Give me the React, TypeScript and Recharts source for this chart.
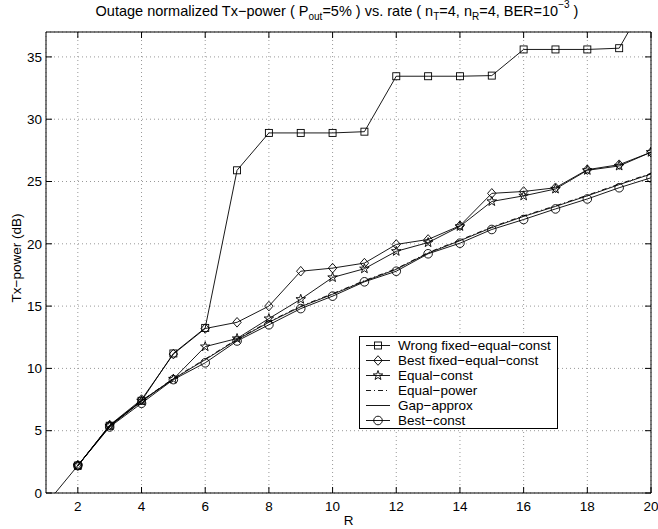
import React from "react";
import {
  LineChart,
  Line,
  XAxis,
  YAxis,
  CartesianGrid,
  Legend,
} from "recharts";

// rate R
const rates = [1, 2, 3, 4, 5, 6, 7, 8, 9, 10, 11, 12, 13, 14, 15, 16, 17, 18, 19, 20];

// Tx-power (dB) per scheme
const wrongFixed = [null, 2.2, 5.4, 7.4, 11.2, 13.25, 25.9, 28.9, 28.9, 28.9, 29.0, 33.45, 33.45, 33.45, 33.5, 35.6, 35.6, 35.6, 35.7, 40.2];
const bestFixed = [null, 2.2, 5.45, 7.5, 11.15, 13.2, 13.7, 15.0, 17.8, 18.05, 18.45, 19.95, 20.35, 21.45, 24.05, 24.2, 24.5, 25.95, 26.35, 27.35];
const equalConst = [null, 2.2, 5.4, 7.4, 9.15, 11.75, 12.4, 14.0, 15.55, 17.3, 18.0, 19.4, 20.1, 21.4, 23.4, 23.85, 24.4, 25.9, 26.25, 27.35];
const equalPower = [null, 2.2, 5.4, 7.4, 9.2, 10.75, 12.35, 13.75, 15.0, 16.0, 17.05, 18.0, 19.3, 20.3, 21.35, 22.25, 23.05, 23.9, 24.8, 25.65];
const gapApprox = [-0.9, 2.2, 5.35, 7.35, 9.15, 10.7, 12.3, 13.7, 14.95, 15.95, 17.0, 17.95, 19.25, 20.25, 21.3, 22.2, 23.0, 23.85, 24.75, 25.6];
const bestConst = [null, 2.2, 5.3, 7.2, 9.1, 10.45, 12.2, 13.5, 14.8, 15.8, 16.95, 17.8, 19.2, 20.05, 21.15, 21.95, 22.8, 23.6, 24.5, 25.3];

const xTicks = [2, 4, 6, 8, 10, 12, 14, 16, 18, 20];
const yTicks = [0, 5, 10, 15, 20, 25, 30, 35];

const data = rates.map((r, i) => ({
  r,
  wrongFixed: wrongFixed[i],
  bestFixed: bestFixed[i],
  equalConst: equalConst[i],
  equalPower: equalPower[i],
  gapApprox: gapApprox[i],
  bestConst: bestConst[i],
}));

const series = [
  { key: "wrongFixed", name: "Wrong fixed\u2212equal\u2212const", marker: "square", dash: undefined },
  { key: "bestFixed", name: "Best fixed\u2212equal\u2212const", marker: "diamond", dash: undefined },
  { key: "equalConst", name: "Equal\u2212const", marker: "star", dash: undefined },
  { key: "equalPower", name: "Equal\u2212power", marker: null, dash: "5 3 1 3" },
  { key: "gapApprox", name: "Gap\u2212approx", marker: null, dash: undefined },
  { key: "bestConst", name: "Best\u2212const", marker: "circle", dash: undefined },
];

const FONT = '"Liberation Sans", Arial, Helvetica, sans-serif';

function starPoints(cx: number, cy: number, ro: number, ri: number) {
  const pts: string[] = [];
  for (let k = 0; k < 10; k++) {
    const rad = k % 2 === 0 ? ro : ri;
    const a = -Math.PI / 2 + (k * Math.PI) / 5;
    pts.push(`${cx + rad * Math.cos(a)},${cy + rad * Math.sin(a)}`);
  }
  return pts.join(" ");
}

function Marker({ shape, cx, cy }: { shape: string; cx: number; cy: number }) {
  const common = { fill: "none", stroke: "#000", strokeWidth: 0.9 };
  if (shape === "square") return <rect x={cx - 3.5} y={cy - 3.5} width={7} height={7} {...common} />;
  if (shape === "diamond")
    return <polygon points={`${cx},${cy - 4.8} ${cx + 4.2},${cy} ${cx},${cy + 4.8} ${cx - 4.2},${cy}`} {...common} />;
  if (shape === "star") return <polygon points={starPoints(cx, cy, 5, 2)} {...common} />;
  if (shape === "circle") return <circle cx={cx} cy={cy} r={4.3} {...common} />;
  return null;
}

const dotFor = (shape: string | null) => {
  if (!shape) return false;
  return (props: any) => {
    const { cx, cy, index, value } = props;
    if (cx == null || cy == null || value == null) return <g key={index} />;
    return (
      <g key={index}>
        <Marker shape={shape} cx={cx} cy={cy} />
      </g>
    );
  };
};

function LegendBox() {
  return (
    <div
      style={{
        border: "1px solid #000",
        background: "#fff",
        width: 197,
        paddingTop: 1,
        fontFamily: FONT,
        fontSize: 13.5,
        color: "#000",
      }}
    >
      {series.map((s) => (
        <div key={s.key} style={{ display: "flex", alignItems: "center", height: 15, lineHeight: "15px" }}>
          <svg width={38} height={15}>
            <line x1={6} x2={30} y1={7.5} y2={7.5} stroke="#000" strokeWidth={0.9} strokeDasharray={s.dash} />
            {s.marker && <Marker shape={s.marker} cx={18} cy={7.5} />}
          </svg>
          <span style={{ whiteSpace: "nowrap" }}>{s.name}</span>
        </div>
      ))}
    </div>
  );
}

const tickStyle = { fontSize: 13.5, fill: "#000", fontFamily: FONT };
const noTick = () => <g />;

export default function App() {
  return (
    <div style={{ position: "absolute", left: 0, top: 0, width: 658, height: 529, background: "#fff" }}>
      <LineChart width={658} height={529} data={data} margin={{ top: 31, right: 6, bottom: 0, left: 0 }}>
        <CartesianGrid stroke="#999" strokeDasharray="1 3" />
        <XAxis
          dataKey="r"
          type="number"
          domain={[1, 20]}
          ticks={xTicks}
          interval={0}
          allowDataOverflow
          height={36}
          tickSize={-6}
          tickMargin={14}
          stroke="#000"
          tick={tickStyle}
          label={{ value: "R", position: "insideBottom", offset: 4, fontSize: 13.5, fill: "#000", fontFamily: FONT }}
        />
        <XAxis
          xAxisId="top"
          orientation="top"
          dataKey="r"
          type="number"
          domain={[1, 20]}
          ticks={xTicks}
          interval={0}
          allowDataOverflow
          height={1}
          tickSize={-6}
          stroke="#000"
          tick={noTick}
        />
        <YAxis
          type="number"
          domain={[0, 37]}
          ticks={yTicks}
          interval={0}
          allowDataOverflow
          width={46}
          tickSize={-6}
          tickMargin={10}
          stroke="#000"
          tick={tickStyle}
        />
        <YAxis
          yAxisId="right"
          orientation="right"
          type="number"
          domain={[0, 37]}
          ticks={yTicks}
          interval={0}
          allowDataOverflow
          width={1}
          tickSize={-6}
          stroke="#000"
          tick={noTick}
        />
        <Legend
          layout="vertical"
          align="center"
          verticalAlign="middle"
          wrapperStyle={{ left: 359, top: 336, width: 199 }}
          content={() => <LegendBox />}
        />
        {series.map((s) => (
          <Line
            key={s.key}
            dataKey={s.key}
            name={s.name}
            type="linear"
            stroke="#000"
            strokeWidth={0.9}
            strokeDasharray={s.dash}
            dot={dotFor(s.marker)}
            activeDot={false}
            isAnimationActive={false}
          />
        ))}
      </LineChart>
      <svg
        width={658}
        height={529}
        style={{ position: "absolute", left: 0, top: 0, pointerEvents: "none" }}
        fontFamily={FONT}
      >
        <text x={337} y={16} textAnchor="middle" fontSize={14.5} fill="#000">
          Outage normalized Tx{"\u2212"}power ( P
          <tspan dy={4} fontSize={10}>out</tspan>
          <tspan dy={-4}>=5% ) vs. rate ( n</tspan>
          <tspan dy={4} fontSize={10}>T</tspan>
          <tspan dy={-4}>=4, n</tspan>
          <tspan dy={4} fontSize={10}>R</tspan>
          <tspan dy={-4}>=4, BER=10</tspan>
          <tspan dy={-8} fontSize={10}>{"\u2212"}3</tspan>
          <tspan dy={8}> )</tspan>
        </text>
        <text
          x={21}
          y={258}
          textAnchor="middle"
          fontSize={13.5}
          fill="#000"
          transform="rotate(-90 21 258)"
        >
          Tx{"\u2212"}power (dB)
        </text>
      </svg>
    </div>
  );
}
